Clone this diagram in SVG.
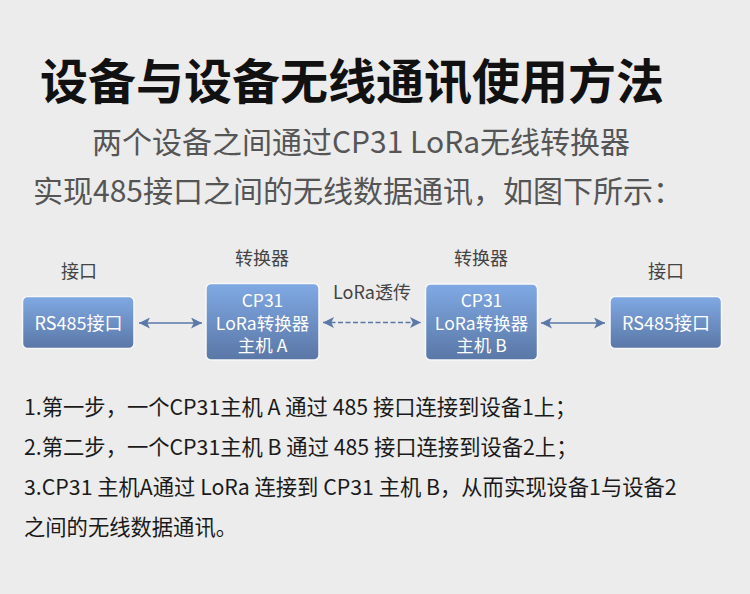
<svg xmlns="http://www.w3.org/2000/svg" width="750" height="594" viewBox="0 0 750 594">
<defs>
<style>
text{font-family:"Noto Sans CJK SC","Noto Sans",sans-serif;}
.title{font-size:48px;font-weight:700;fill:#111111;}
.sub{font-size:30px;fill:#555555;}
.lbl{font-size:18px;fill:#444444;text-anchor:middle;}
.box{fill:url(#g);stroke:#f7f7f7;stroke-width:1.5;}
.bt{font-size:17.5px;fill:#ffffff;text-anchor:middle;}
.bt2{font-size:18px;fill:#ffffff;text-anchor:middle;}
.body{font-size:21.3px;fill:#1a1a1a;}
.ln{stroke:#5a78a8;stroke-width:1.4;fill:none;}
.dash{stroke-dasharray:5 2.5;stroke-width:1.6;}
</style>
<linearGradient id="g" x1="0" y1="0" x2="0" y2="1">
<stop offset="0" stop-color="#80a9e4"/>
<stop offset="1" stop-color="#5a77a6"/>
</linearGradient>
<marker id="ah" viewBox="0 0 10 10" refX="10" refY="5" markerWidth="11" markerHeight="11" markerUnits="userSpaceOnUse" orient="auto-start-reverse">
<path d="M0,0 L10,5 L0,10 L2.5,5 z" fill="#5a78a8"/>
</marker>
</defs>
<rect width="750" height="594" fill="#ececec"/>
<text class="title" x="352" y="99" text-anchor="middle">设备与设备无线通讯使用方法</text>
<text class="sub" x="361" y="153" text-anchor="middle">两个设备之间通过CP31 LoRa无线转换器</text>
<text class="sub" x="358" y="201.5" text-anchor="middle">实现485接口之间的无线数据通讯，如图下所示：</text>

<g id="connectors">
<path class="ln" d="M139,323 H202" marker-start="url(#ah)" marker-end="url(#ah)"/>
<path class="ln dash" d="M323,322.5 H421" marker-start="url(#ah)" marker-end="url(#ah)"/>
<text class="lbl" x="372" y="299">LoRa透传</text>
<path class="ln" d="M541,323 H605" marker-start="url(#ah)" marker-end="url(#ah)"/>
</g>

<g id="node-rs485-left">
<text class="lbl" x="79" y="277.5">接口</text>
<rect class="box" x="22.5" y="296.5" width="111.5" height="52" rx="5"/>
<text class="bt2" x="78.5" y="329.5">RS485接口</text>
</g>

<g id="node-cp31-a">
<text class="lbl" x="262" y="265">转换器</text>
<rect class="box" x="206" y="283.5" width="113" height="76.5" rx="5"/>
<text class="bt" x="262.5" y="306.5">CP31</text>
<text class="bt" x="262.5" y="330">LoRa转换器</text>
<text class="bt" x="262.5" y="351.5">主机 A</text>
</g>

<g id="node-cp31-b">
<text class="lbl" x="481" y="265">转换器</text>
<rect class="box" x="425.5" y="284" width="112" height="76" rx="5"/>
<text class="bt" x="481.5" y="306.5">CP31</text>
<text class="bt" x="481.5" y="330">LoRa转换器</text>
<text class="bt" x="481.5" y="351.5">主机 B</text>
</g>

<g id="node-rs485-right">
<text class="lbl" x="666" y="277.5">接口</text>
<rect class="box" x="610" y="296.5" width="111.5" height="52" rx="5"/>
<text class="bt2" x="666" y="329.5">RS485接口</text>
</g>

<text class="body" x="24" y="415">1.第一步，一个CP31主机 A 通过 485 接口连接到设备1上；</text>
<text class="body" x="24" y="455">2.第二步，一个CP31主机 B 通过 485 接口连接到设备2上；</text>
<text class="body" x="24" y="495">3.CP31 主机A通过 LoRa 连接到 CP31 主机 B，从而实现设备1与设备2</text>
<text class="body" x="24" y="535">之间的无线数据通讯。</text>
</svg>
